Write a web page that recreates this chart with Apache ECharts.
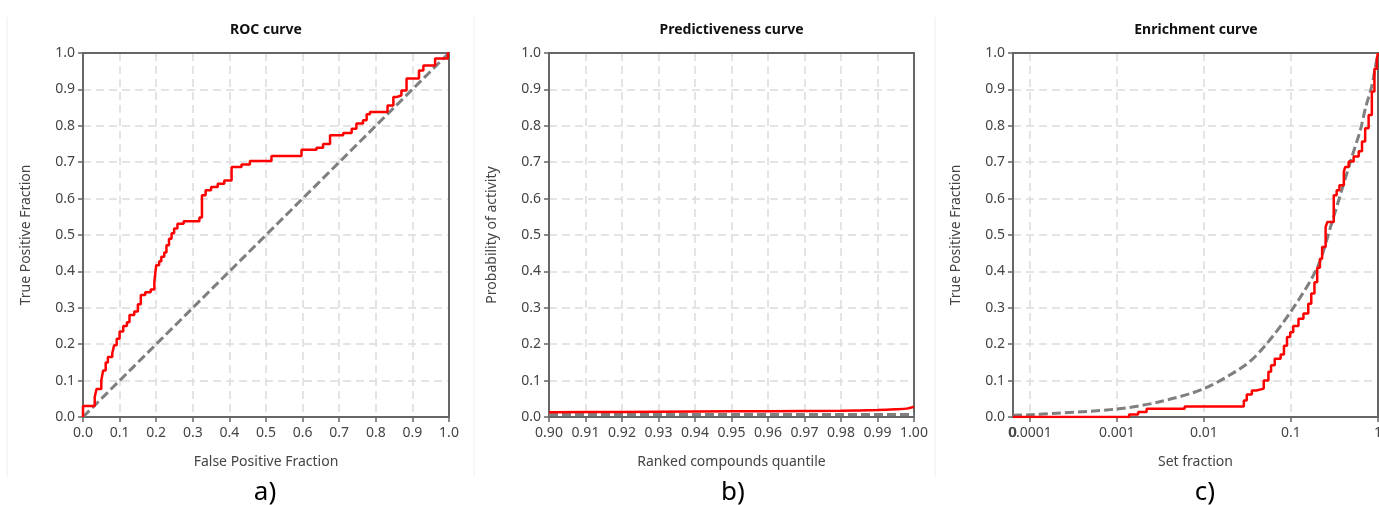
<!DOCTYPE html>
<html>
<head>
<meta charset="utf-8">
<title>ROC / Predictiveness / Enrichment</title>
<script src="https://cdn.jsdelivr.net/npm/echarts@6/dist/echarts.min.js"></script>
<style>
  html, body { margin: 0; padding: 0; background: #fff; }
  #main { width: 1379px; height: 505px; }
</style>
</head>
<body>
<div id="main"></div>
<script>
// texts of the three panels
var titles = ['ROC curve', 'Predictiveness curve', 'Enrichment curve'];
var panelTags = ['a)', 'b)', 'c)'];
var xNames = ['False Positive Fraction', 'Ranked compounds quantile', 'Set fraction'];
var yNames = ['True Positive Fraction', 'Probability of activity', 'True Positive Fraction'];

// a) ROC curve (step points: fpf where the step rises, tpf after it)
var rocFpf = [0, 0, 0.032, 0.037, 0.05, 0.055, 0.062, 0.068, 0.08, 0.085, 0.092, 0.1, 0.11, 0.12, 0.127,
  0.14, 0.15, 0.158, 0.17, 0.185, 0.195, 0.2, 0.208, 0.214, 0.222, 0.228, 0.235, 0.242, 0.249, 0.258,
  0.275, 0.318, 0.325, 0.335, 0.35, 0.368, 0.386, 0.406, 0.433, 0.456, 0.515, 0.597, 0.638, 0.656,
  0.675, 0.711, 0.734, 0.747, 0.765, 0.775, 0.784, 0.832, 0.848, 0.857, 0.87, 0.884, 0.918, 0.93,
  0.962, 0.997, 1];
var rocTpf = [0, 0.03, 0.055, 0.077, 0.1, 0.128, 0.15, 0.165, 0.175, 0.197, 0.215, 0.235, 0.25, 0.26, 0.28,
  0.29, 0.31, 0.335, 0.343, 0.35, 0.372, 0.417, 0.428, 0.44, 0.452, 0.472, 0.49, 0.505, 0.518, 0.531,
  0.538, 0.548, 0.609, 0.623, 0.632, 0.641, 0.65, 0.687, 0.694, 0.703, 0.717, 0.734, 0.74, 0.75,
  0.774, 0.78, 0.792, 0.806, 0.815, 0.832, 0.838, 0.856, 0.879, 0.884, 0.897, 0.93, 0.952, 0.966,
  0.985, 1, 1];
var randomFpf = [0, 1];
var randomTpf = [0, 1];

// b) predictiveness curve
var predQuantile = [0.9, 0.92, 0.94, 0.96, 0.98, 0.99, 0.995, 0.998, 1.0];
var predProb = [0.013, 0.014, 0.015, 0.016, 0.017, 0.019, 0.021, 0.023, 0.028];
var baseQuantile = [0.9, 1.0];
var baseProb = [0.007, 0.007];

// c) enrichment curve (log x)
var enrMin = 0.0000638;
var enrTicks = [0.0001, 0.001, 0.01, 0.1, 1];
var enrTickLabels = ['0.0001', '0.001', '0.01', '0.1', '1'];
var enrMinLabel = '0';
var enrFraction = [enrMin, 0.00138, 0.00175, 0.00219, 0.006, 0.0287, 0.031, 0.0355, 0.04, 0.0486,
  0.055, 0.059, 0.065, 0.076, 0.083, 0.09, 0.098, 0.106, 0.122, 0.139, 0.158, 0.171, 0.186, 0.2,
  0.215, 0.228, 0.25, 0.262, 0.31, 0.335, 0.36, 0.405, 0.42, 0.46, 0.525, 0.6, 0.655, 0.712, 0.78,
  0.85, 0.91, 0.97, 1];
var enrTpf = [0, 0.0066, 0.014, 0.023, 0.029, 0.045, 0.062, 0.073, 0.078, 0.1,
  0.124, 0.142, 0.16, 0.172, 0.196, 0.22, 0.233, 0.25, 0.27, 0.284, 0.311, 0.339, 0.37, 0.41,
  0.435, 0.467, 0.522, 0.536, 0.609, 0.623, 0.637, 0.674, 0.687, 0.702, 0.716, 0.73, 0.757, 0.793, 0.83,
  0.894, 0.957, 0.985, 1];
var randFraction = [enrMin, 0.0001, 0.001, 0.003, 0.01, 0.03, 0.05, 0.1, 0.2, 0.3, 0.5, 0.63, 0.72, 0.85, 0.93, 1];
var randTpf = [0.005, 0.006, 0.022, 0.041, 0.078, 0.143, 0.195, 0.29, 0.41, 0.54, 0.714, 0.79, 0.85, 0.91, 0.96, 1];

function pairs (xs, ys) {
  return xs.map(function (x, i) { return [x, ys[i]] })
}

var fontFamily = '"Noto Sans", "Open Sans", sans-serif'
var gridPos = [
  { left: 83, top: 53, width: 366, height: 364 },
  { left: 549, top: 53, width: 365, height: 364 },
  { left: 1013, top: 53, width: 365, height: 364 }
]
var axisColor = '#666'
var labelStyle = { color: '#444', fontSize: 14, fontFamily: fontFamily }
var splitStyle = { show: true, lineStyle: { color: '#dcdcdc', width: 1.5, type: [8, 5] } }

function yAxisOf (i) {
  return {
    type: 'value', gridIndex: i, min: 0, max: 1, interval: 0.1, z: 4,
    name: yNames[i], nameLocation: 'middle', nameGap: 50,
    nameTextStyle: labelStyle,
    axisLine: { show: true, lineStyle: { color: axisColor, width: 2 } },
    axisTick: { show: true, length: 5, lineStyle: { color: axisColor, width: 1.5 } },
    axisLabel: Object.assign({ margin: 8, formatter: function (v) { return v.toFixed(1) } }, labelStyle),
    splitLine: splitStyle
  }
}

function xAxisOf (i, extra, labelExtra) {
  var ax = {
    type: 'value', gridIndex: i, z: 4,
    name: xNames[i], nameLocation: 'middle', nameGap: 38,
    nameTextStyle: Object.assign({ verticalAlign: 'top' }, labelStyle),
    axisLine: { show: true, lineStyle: { color: axisColor, width: 2 } },
    axisTick: { show: true, length: 5, lineStyle: { color: axisColor, width: 1.5 } },
    axisLabel: Object.assign({ margin: 9, showMinLabel: true, showMaxLabel: true }, labelStyle, labelExtra),
    splitLine: splitStyle
  }
  return Object.assign(ax, extra)
}

// plain frame axes on top and right of every grid
function frameAxis (i, pos, extra) {
  return Object.assign({
    type: 'value', gridIndex: i, position: pos, z: 5, min: 0, max: 1,
    axisLine: { show: true, onZero: false, lineStyle: { color: axisColor, width: 2 } },
    axisTick: { show: false }, axisLabel: { show: false }, splitLine: { show: false }
  }, extra)
}

var redLine = { color: '#ff0000', width: 2.5 }
var grayDash = { color: '#7f7f7f', width: 3, type: [9, 4] }

var chart = echarts.init(document.getElementById('main'), null, { renderer: 'canvas' })

var graphics = []
// faint panel frames
;[7, 474, 935].forEach(function (x) {
  graphics.push({ type: 'line', shape: { x1: x, y1: 17, x2: x, y2: 477 }, style: { stroke: '#eeeeee', lineWidth: 1 }, silent: true })
})
var titleX = [266, 731.5, 1196]
var tagX = [265, 733, 1205]
titles.forEach(function (t, i) {
  graphics.push({
    type: 'text', x: titleX[i], y: 30,
    style: { text: t, fill: '#111', font: 'bold 14px ' + fontFamily, textAlign: 'center', textVerticalAlign: 'middle' }
  })
  graphics.push({
    type: 'text', x: tagX[i], y: 493,
    style: { text: panelTags[i], fill: '#000', font: '26px ' + fontFamily, textAlign: 'center', textVerticalAlign: 'middle' }
  })
})

function enrLabel (v) {
  var best = 0
  enrTicks.forEach(function (t, k) {
    if (Math.abs(Math.log10(t) - Math.log10(v)) < Math.abs(Math.log10(enrTicks[best]) - Math.log10(v))) best = k
  })
  return enrTickLabels[best]
}

var option = {
  backgroundColor: '#fff',
  animation: false,
  grid: gridPos.map(function (g) {
    return Object.assign({ containLabel: false, outerBoundsMode: 'none' }, g)
  }),
  xAxis: [
    xAxisOf(0, { min: 0, max: 1, interval: 0.1 }, { formatter: function (v) { return v.toFixed(1) } }),
    xAxisOf(1, { min: 0.9, max: 1.0, interval: 0.01 }, { formatter: function (v) { return v.toFixed(2) } }),
    xAxisOf(2, {
      type: 'log', logBase: 10, min: enrMin, max: 1,
      axisTick: { show: true, length: 5, customValues: enrTicks, lineStyle: { color: axisColor, width: 1.5 } }
    }, {
      customValues: enrTicks,
      formatter: enrLabel
    }),
    frameAxis(0, 'top'),
    frameAxis(1, 'top', { min: 0.9, max: 1.0 }),
    frameAxis(2, 'top', { type: 'log', min: enrMin, max: 1 }),
    // the lone "0" label sitting at the left end of the log axis
    {
      type: 'log', gridIndex: 2, position: 'bottom', min: enrMin, max: 1, z: 4,
      axisLine: { show: false }, axisTick: { show: false }, splitLine: { show: false },
      axisLabel: Object.assign({ margin: 9, customValues: [enrMin], showMinLabel: true, formatter: function () { return enrMinLabel } }, labelStyle)
    }
  ],
  yAxis: [
    yAxisOf(0), yAxisOf(1), yAxisOf(2),
    frameAxis(0, 'right'), frameAxis(1, 'right'), frameAxis(2, 'right')
  ],
  graphic: graphics,
  series: [
    { type: 'line', xAxisIndex: 0, yAxisIndex: 0, data: pairs(randomFpf, randomTpf), showSymbol: false, lineStyle: grayDash, z: 10 },
    { type: 'line', xAxisIndex: 0, yAxisIndex: 0, data: pairs(rocFpf, rocTpf), step: 'end', showSymbol: false, lineStyle: redLine, z: 11 },
    { type: 'line', xAxisIndex: 1, yAxisIndex: 1, data: pairs(baseQuantile, baseProb), showSymbol: false, lineStyle: grayDash, z: 10 },
    { type: 'line', xAxisIndex: 1, yAxisIndex: 1, data: pairs(predQuantile, predProb), smooth: 0.3, showSymbol: false, lineStyle: redLine, z: 11 },
    { type: 'line', xAxisIndex: 2, yAxisIndex: 2, data: pairs(randFraction, randTpf), smooth: 0.3, showSymbol: false, lineStyle: grayDash, z: 10 },
    { type: 'line', xAxisIndex: 2, yAxisIndex: 2, data: pairs(enrFraction, enrTpf), step: 'end', showSymbol: false, lineStyle: redLine, z: 11 }
  ]
}

chart.setOption(option)
</script>
</body>
</html>
